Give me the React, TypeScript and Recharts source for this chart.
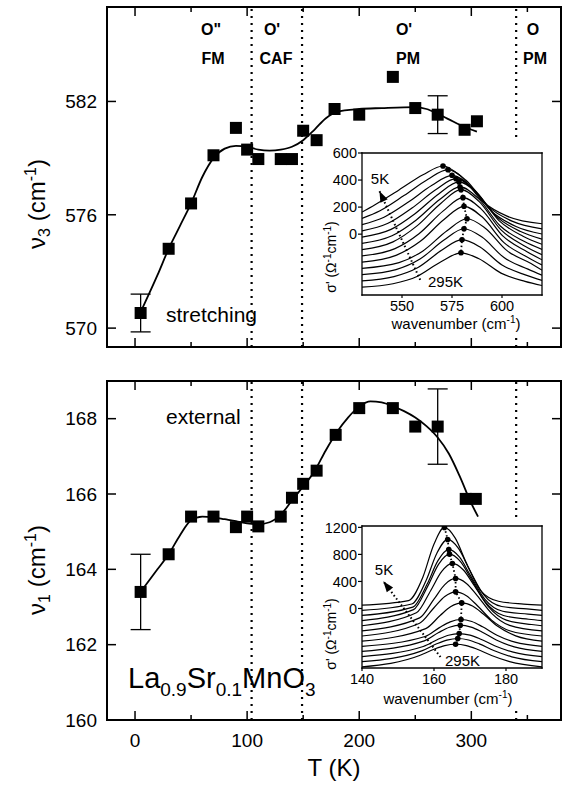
import React from 'react';
import { ComposedChart, Line, Scatter, XAxis, YAxis, ErrorBar, ReferenceLine } from 'recharts';

const FONT = 'Arial, "Liberation Sans", Helvetica, sans-serif';

// ---- upper panel: v3 stretching mode ----
const stretchT = [5, 30, 50, 70, 90, 100, 110, 130, 140, 150, 162, 178, 200, 230, 250, 270, 294, 305];
const stretchNu = [570.8, 574.2, 576.6, 579.15, 580.6, 579.45, 578.95, 578.95, 578.95, 580.45, 579.95, 581.6, 581.3, 583.3, 581.65, 581.3, 580.5, 580.95];
const stretchErr = [1.0, 0, 0, 0, 0, 0, 0, 0, 0, 0, 0, 0, 0, 0, 0, 1.0, 0, 0];
const stretchFitT = [5, 20, 30, 40, 50, 60, 70, 80, 90, 100, 110, 120, 130, 140, 150, 160, 170, 180, 200, 220, 250, 260, 270, 280, 290, 305];
const stretchFitNu = [570.85, 572.8, 574.2, 575.4, 576.6, 578.0, 579.0, 579.5, 579.65, 579.6, 579.45, 579.4, 579.45, 579.6, 579.95, 580.5, 581.1, 581.45, 581.6, 581.65, 581.7, 581.6, 581.35, 581.05, 580.75, 580.4];

// ---- lower panel: v1 external mode ----
const extT = [5, 30, 50, 70, 90, 100, 110, 130, 140, 150, 162, 179, 200, 230, 250, 270, 295, 304];
const extNu = [163.4, 164.4, 165.4, 165.4, 165.12, 165.4, 165.14, 165.4, 165.9, 166.27, 166.62, 167.57, 168.28, 168.28, 167.79, 167.79, 165.87, 165.87];
const extErr = [1.0, 0, 0, 0, 0, 0, 0, 0, 0, 0, 0, 0, 0, 0, 0, 1.0, 0, 0];
const extFitT = [5, 20, 30, 40, 50, 60, 70, 80, 90, 100, 110, 120, 130, 140, 150, 160, 170, 180, 190, 200, 210, 220, 230, 240, 250, 260, 270, 280, 290, 300, 306];
const extFitNu = [163.4, 164.0, 164.4, 164.9, 165.3, 165.4, 165.38, 165.33, 165.28, 165.22, 165.2, 165.25, 165.45, 165.83, 166.2, 166.6, 167.15, 167.64, 168.03, 168.32, 168.46, 168.43, 168.33, 168.2, 168.03, 167.8, 167.5, 167.07, 166.45, 165.75, 165.4];

const phaseBounds = [104, 149, 340];
const tTicks = [0, 50, 100, 150, 200, 250, 300, 350];
const stretchTicks = [570, 576, 582];
const extTicks = [160, 162, 164, 166, 168];

// ---- inset spectra, [wavenumber, sigma'] (5K on top ... 295K at bottom) ----
const stretchSpectra: number[][][] = [
  [[530, 163], [536.5, 218], [548.5, 327], [560.5, 439], [570.5, 504], [579.5, 427], [590.5, 239], [602.5, 133], [620, 77]],
  [[530, 117], [539, 173], [551, 285], [563, 406], [573, 477], [582, 398], [593, 205], [605, 96], [620, 39]],
  [[530, 70], [541, 125], [553, 235], [565, 361], [575, 435], [584, 357], [595, 166], [607, 57], [620, 1]],
  [[530, 24], [543, 80], [555, 193], [567, 330], [577, 410], [586, 330], [597, 133], [609, 21], [620, -37]],
  [[530, -22], [544.5, 35], [556.5, 151], [568.5, 299], [578.5, 386], [587.5, 303], [598.5, 100], [610.5, -15], [620, -75]],
  [[530, -68], [545, -12], [557, 103], [569, 258], [579, 349], [588, 266], [599, 62], [611, -53], [620, -113]],
  [[530, -114], [545.5, -57], [557.5, 61], [569.5, 229], [579.5, 329], [588.5, 242], [599.5, 31], [611.5, -89], [620, -152]],
  [[530, -161], [546.5, -107], [558.5, 3], [570.5, 170], [580.5, 270], [589.5, 187], [600.5, -15], [612.5, -130], [620, -190]],
  [[530, -207], [547, -157], [559, -55], [571, 108], [581, 206], [590, 128], [601, -63], [613, -172], [620, -228]],
  [[530, -253], [548.5, -211], [560.5, -124], [572.5, 25], [582.5, 114], [591.5, 46], [602.5, -122], [614.5, -217], [620, -266]],
  [[530, -299], [547, -262], [559, -184], [571, -44], [581, 40], [590, -22], [601, -173], [613, -259], [620, -304]],
  [[530, -345], [546, -314], [558, -247], [570, -118], [580, -41], [589, -95], [600, -228], [612, -303], [620, -342]],
  [[530, -392], [545.5, -367], [557.5, -313], [569.5, -204], [579.5, -138], [588.5, -182], [599.5, -288], [611.5, -349], [620, -380]],
];
const stretchPeaks = [[570.5, 504], [573, 477], [575, 435], [577, 410], [578.5, 386], [579, 349], [579.5, 329], [580.5, 270], [581, 206], [582.5, 114], [581, 40], [580, -41], [579.5, -138]];
const stretchArrow = [[559.1, -338], [538.7, 319]];

const extSpectra: number[][][] = [
  [[140, 49], [152.9, 117], [156.9, 463], [159.9, 940], [162.9, 1199], [165.9, 1040], [168.9, 684], [172.9, 269], [177.9, 107], [184.9, 66], [190, 49]],
  [[140, -27], [153.8, 67], [157.8, 414], [160.8, 818], [163.8, 1021], [166.8, 888], [169.8, 581], [173.8, 204], [178.8, 29], [185.8, -6], [190, -27]],
  [[140, -103], [154.1, 21], [158.1, 361], [161.1, 707], [164.1, 873], [167.1, 758], [170.1, 489], [174.1, 140], [179.1, -41], [186.1, -83], [190, -103]],
  [[140, -179], [154.3, -17], [158.3, 335], [161.3, 657], [164.3, 804], [167.3, 697], [170.3, 441], [174.3, 94], [179.3, -104], [186.3, -159], [190, -179]],
  [[140, -255], [155.1, -64], [159.1, 267], [162.1, 544], [165.1, 666], [168.1, 573], [171.1, 346], [175.1, 27], [180.1, -172], [187.1, -237], [190, -255]],
  [[140, -331], [156, -139], [160, 139], [163, 353], [166, 444], [169, 371], [172, 191], [176, -72], [181, -250], [190, -331]],
  [[140, -407], [156, -218], [160, 11], [163, 177], [166, 246], [169, 189], [172, 45], [176, -172], [181, -329], [190, -407]],
  [[140, -483], [157.7, -297], [161.7, -104], [164.7, 29], [167.7, 83], [170.7, 37], [173.7, -81], [177.7, -264], [182.7, -405], [190, -483]],
  [[140, -559], [157.5, -414], [161.5, -283], [164.5, -197], [167.5, -163], [170.5, -193], [173.5, -271], [177.5, -396], [182.5, -498], [190, -559]],
  [[140, -635], [157.3, -479], [161.3, -355], [164.3, -278], [167.3, -247], [170.3, -275], [173.3, -347], [177.3, -466], [182.3, -568], [190, -635]],
  [[140, -711], [157, -562], [161, -459], [164, -395], [167, -371], [170, -394], [173, -454], [177, -555], [182, -646], [190, -711]],
  [[140, -787], [156.6, -626], [160.6, -526], [163.6, -467], [166.6, -444], [169.6, -466], [172.6, -524], [176.6, -622], [181.6, -715], [190, -787]],
  [[140, -863], [156, -696], [160, -603], [163, -549], [166, -529], [169, -549], [172, -603], [176, -696], [181, -786], [190, -863]],
];
const extPeaks = [[162.9, 1199], [163.8, 1021], [164.1, 873], [164.3, 804], [165.1, 666], [166, 444], [166, 246], [167.7, 83], [167.5, -163], [167.3, -247], [167, -371], [166.6, -444], [166, -529]];
const extArrow = [[161.8, -717], [145.9, 404]];

const toPts = (xs: number[], ys: number[]) => xs.map((x, i) => ({ x, y: ys[i] }));
const pairs = (arr: number[][]) => arr.map(([x, y]) => ({ x, y }));

const frameLine = { stroke: '#000', strokeWidth: 2, strokeLinecap: 'square' };
const insetFrame = { stroke: '#000', strokeWidth: 1.3, strokeLinecap: 'square' };

const Square = (p: any) => {
  if (p.cx == null || p.cy == null) return <g />;
  return <rect x={p.cx - 6} y={p.cy - 6} width={12} height={12} fill="#000" />;
};

const tLen = (v: number) => (v % 100 === 0 ? 9 : 5);

const bottomTick = (labels: boolean) => (p: any) => {
  const v = p.payload.value;
  return (
    <g>
      <line x1={p.x} y1={p.y} x2={p.x} y2={p.y - tLen(v)} stroke="#000" strokeWidth={1.5} />
      {labels && v % 100 === 0 && (
        <text x={p.x} y={p.y + 27} textAnchor="middle" fontSize={19} fontFamily={FONT} fill="#000">{v}</text>
      )}
    </g>
  );
};
const topTick = (p: any) => (
  <line x1={p.x} y1={p.y} x2={p.x} y2={p.y + tLen(p.payload.value)} stroke="#000" strokeWidth={1.5} />
);
const leftTick = (p: any) => (
  <g>
    <line x1={p.x} y1={p.y} x2={p.x + 9} y2={p.y} stroke="#000" strokeWidth={1.5} />
    <text x={p.x - 10} y={p.y + 6.8} textAnchor="end" fontSize={19} fontFamily={FONT} fill="#000">{p.payload.value}</text>
  </g>
);
const rightTick = (p: any) => (
  <line x1={p.x} y1={p.y} x2={p.x - 9} y2={p.y} stroke="#000" strokeWidth={1.5} />
);

const insetBottomTick = (p: any) => (
  <g>
    <line x1={p.x} y1={p.y} x2={p.x} y2={p.y + 3} stroke="#000" strokeWidth={1.2} />
    <text x={p.x} y={p.y + 15.5} textAnchor="middle" fontSize={14.5} fontFamily={FONT} fill="#000">{p.payload.value}</text>
  </g>
);
const insetLeftTick = (p: any) => (
  <g>
    <line x1={p.x} y1={p.y} x2={p.x - 4} y2={p.y} stroke="#000" strokeWidth={1.2} />
    <text x={p.x - 5} y={p.y + 5.2} textAnchor="end" fontSize={14.5} fontFamily={FONT} fill="#000">{p.payload.value}</text>
  </g>
);
const noTick = () => <g />;

const arrowShape = (ux: number, uy: number) => (p: any) => {
  const { cx, cy } = p;
  const bx = cx - ux * 11;
  const by = cy - uy * 11;
  const nx = -uy * 4;
  const ny = ux * 4;
  return <polygon points={`${cx},${cy} ${bx + nx},${by + ny} ${bx - nx},${by - ny}`} fill="#000" />;
};

const PeakDot = (p: any) => <circle key={`pk${p.index}`} cx={p.cx} cy={p.cy} r={2.8} fill="#000" />;

function Panel(props: any) {
  const { top, height, bottomH, yDomain, yTicks, T, nu, err, fitT, fitNu, labels } = props;
  const pts = T.map((x: number, i: number) => ({ x, y: nu[i], err: err[i] }));
  const plain = pts.filter((d: any) => !d.err);
  const withErr = pts.filter((d: any) => d.err);
  return (
    <div style={{ position: 'absolute', left: 0, top, width: 567, height }}>
      <ComposedChart width={567} height={height} margin={{ top: 0, right: 0, bottom: 0, left: 0 }}>
        <XAxis dataKey="x" type="number" domain={[-25, 380]} allowDataOverflow ticks={tTicks} interval={0}
          height={bottomH} tickSize={0} tickMargin={0} tickLine={false} axisLine={frameLine} tick={bottomTick(labels)} />
        <XAxis xAxisId="t" orientation="top" dataKey="x" type="number" domain={[-25, 380]} allowDataOverflow ticks={tTicks}
          interval={0} height={7} tickSize={0} tickMargin={0} tickLine={false} axisLine={frameLine} tick={topTick} />
        <YAxis dataKey="y" type="number" domain={yDomain} allowDataOverflow ticks={yTicks} interval={0} width={107}
          tickSize={0} tickMargin={0} tickLine={false} axisLine={frameLine} tick={leftTick} />
        <YAxis yAxisId="r" orientation="right" type="number" domain={yDomain} allowDataOverflow ticks={yTicks} interval={0}
          width={6} tickSize={0} tickMargin={0} tickLine={false} axisLine={frameLine} tick={rightTick} />
        {phaseBounds.map((b) => (
          <ReferenceLine key={b} x={b} stroke="#000" strokeWidth={2.2} strokeDasharray="2 5" />
        ))}
        <Line data={toPts(fitT, fitNu)} dataKey="y" type="monotone" stroke="#000" strokeWidth={1.8}
          dot={false} activeDot={false} isAnimationActive={false} />
        <Scatter data={plain} dataKey="y" shape={Square} isAnimationActive={false} />
        <Scatter data={withErr} dataKey="y" shape={Square} isAnimationActive={false}>
          <ErrorBar dataKey="err" direction="y" width={10} stroke="#000" strokeWidth={1.3} />
        </Scatter>
      </ComposedChart>
    </div>
  );
}

function Inset(props: any) {
  const { left, top, topH, bottomH, xDomain, yDomain, xTicks, yTicks, spectra, peaks, arrow, dir } = props;
  return (
    <div style={{ position: 'absolute', left, top, width: 240, height: 200 }}>
      <ComposedChart width={240} height={200} margin={{ top: 0, right: 0, bottom: 0, left: 0 }}>
        <XAxis dataKey="x" type="number" domain={xDomain} allowDataOverflow ticks={xTicks} interval={0}
          height={bottomH} tickSize={0} tickMargin={0} tickLine={false} axisLine={insetFrame} tick={insetBottomTick} />
        <XAxis xAxisId="t" orientation="top" type="number" domain={xDomain} allowDataOverflow height={topH}
          tickSize={0} tickMargin={0} tickLine={false} axisLine={insetFrame} tick={noTick} />
        <YAxis dataKey="y" type="number" domain={yDomain} allowDataOverflow ticks={yTicks} interval={0} width={52}
          tickSize={0} tickMargin={0} tickLine={false} axisLine={insetFrame} tick={insetLeftTick} />
        <YAxis yAxisId="r" orientation="right" type="number" domain={yDomain} allowDataOverflow width={8}
          tickSize={0} tickMargin={0} tickLine={false} axisLine={insetFrame} tick={noTick} />
        {spectra.map((c: number[][], i: number) => (
          <Line key={i} data={pairs(c)} dataKey="y" type="monotone" stroke="#000" strokeWidth={1.2}
            dot={false} activeDot={false} isAnimationActive={false} />
        ))}
        <Line data={pairs(peaks)} dataKey="y" type="linear" stroke="#000" strokeWidth={1.8} strokeDasharray="1.5 2.5"
          dot={PeakDot} activeDot={false} isAnimationActive={false} />
        <Line data={pairs(arrow)} dataKey="y" type="linear" stroke="#000" strokeWidth={2} strokeDasharray="1.5 2.5"
          dot={false} activeDot={false} isAnimationActive={false} />
        <Scatter data={pairs([arrow[1]])} dataKey="y" shape={arrowShape(dir[0], dir[1])} isAnimationActive={false} />
      </ComposedChart>
    </div>
  );
}

export default function App() {
  return (
    <div style={{ position: 'absolute', left: 0, top: 0, width: 567, height: 787, background: '#fff', fontFamily: FONT }}>
      <Panel top={0} height={360} bottomH={13} yDomain={[569, 587]} yTicks={stretchTicks}
        T={stretchT} nu={stretchNu} err={stretchErr} fitT={stretchFitT} fitNu={stretchFitNu} labels={false} />
      <Panel top={374} height={413} bottomH={67} yDomain={[160, 169]} yTicks={extTicks}
        T={extT} nu={extNu} err={extErr} fitT={extFitT} fitNu={extFitNu} labels={true} />

      <div style={{ position: 'absolute', left: 325, top: 140, width: 223, height: 194, background: '#fff' }} />
      <div style={{ position: 'absolute', left: 325, top: 517, width: 223, height: 192, background: '#fff' }} />

      <Inset left={310} top={140} topH={13} bottomH={45} xDomain={[530, 620]} yDomain={[-450, 600]}
        xTicks={[550, 575, 600]} yTicks={[0, 200, 400, 600]} spectra={stretchSpectra} peaks={stretchPeaks}
        arrow={stretchArrow} dir={[-0.423, -0.906]} />
      <Inset left={310} top={512} topH={14} bottomH={44} xDomain={[140, 190]} yDomain={[-880, 1220]}
        xTicks={[140, 160, 180]} yTicks={[0, 400, 800, 1200]} spectra={extSpectra} peaks={extPeaks}
        arrow={extArrow} dir={[-0.611, -0.792]} />

      <svg width={567} height={787} style={{ position: 'absolute', left: 0, top: 0, pointerEvents: 'none' }}
        fontFamily={FONT} fill="#000">
        {/* phase labels */}
        <g fontSize={16} fontWeight="bold" textAnchor="middle">
          <text x={211} y={35}>O"</text>
          <text x={213} y={64}>FM</text>
          <text x={272} y={35}>O'</text>
          <text x={276} y={64}>CAF</text>
          <text x={404} y={35}>O'</text>
          <text x={408} y={64}>PM</text>
          <text x={533} y={35}>O</text>
          <text x={535} y={64}>PM</text>
        </g>
        <text x={166} y={322} fontSize={21}>stretching</text>
        <text x={166} y={424} fontSize={21}>external</text>
        <text x={128} y={688} fontSize={29}>
          La<tspan fontSize={19} dy={8}>0.9</tspan><tspan dy={-8}>Sr</tspan><tspan fontSize={19} dy={8}>0.1</tspan>
          <tspan dy={-8}>MnO</tspan><tspan fontSize={19} dy={8}>3</tspan>
        </text>

        {/* main axis titles */}
        <text transform="translate(45,204) rotate(-90)" textAnchor="middle" fontSize={24}>
          ν<tspan fontSize={16} dy={5}>3</tspan><tspan dy={-5}> (cm</tspan><tspan fontSize={16} dy={-9}>-1</tspan><tspan dy={9}>)</tspan>
        </text>
        <text transform="translate(45,570) rotate(-90)" textAnchor="middle" fontSize={24}>
          ν<tspan fontSize={16} dy={5}>1</tspan><tspan dy={-5}> (cm</tspan><tspan fontSize={16} dy={-9}>-1</tspan><tspan dy={9}>)</tspan>
        </text>
        <text x={334} y={776} textAnchor="middle" fontSize={24}>T (K)</text>

        {/* inset labels */}
        <text x={456} y={329} textAnchor="middle" fontSize={15}>
          wavenumber (cm<tspan fontSize={10} dy={-6}>-1</tspan><tspan dy={6}>)</tspan>
        </text>
        <text x={448} y={704} textAnchor="middle" fontSize={15}>
          wavenumber (cm<tspan fontSize={10} dy={-6}>-1</tspan><tspan dy={6}>)</tspan>
        </text>
        <text transform="translate(336,257) rotate(-90)" textAnchor="middle" fontSize={14}>
          σ' (Ω<tspan fontSize={10} dy={-5}>-1</tspan><tspan dy={5}>cm</tspan><tspan fontSize={10} dy={-5}>-1</tspan><tspan dy={5}>)</tspan>
        </text>
        <text transform="translate(336,634) rotate(-90)" textAnchor="middle" fontSize={14}>
          σ' (Ω<tspan fontSize={10} dy={-5}>-1</tspan><tspan dy={5}>cm</tspan><tspan fontSize={10} dy={-5}>-1</tspan><tspan dy={5}>)</tspan>
        </text>
        <text x={380} y={184} textAnchor="middle" fontSize={15}>5K</text>
        <text x={428} y={287} fontSize={15}>295K</text>
        <text x={384} y={575} textAnchor="middle" fontSize={15}>5K</text>
        <text x={445} y={666} fontSize={15}>295K</text>
      </svg>
    </div>
  );
}
